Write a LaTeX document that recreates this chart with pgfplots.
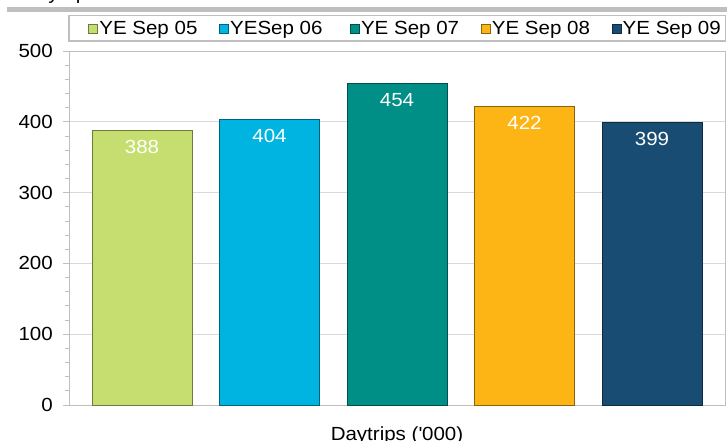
\documentclass[border=0pt]{standalone}
\usepackage{pgfplots}
\pgfplotsset{compat=1.18}
\usepackage{fontspec}
\setmainfont[FakeStretch=1.08]{Liberation Sans}
\definecolor{c1}{RGB}{198,222,112}
\definecolor{c2}{RGB}{0,180,225}
\definecolor{c3}{RGB}{0,143,135}
\definecolor{c4}{RGB}{253,180,21}
\definecolor{c5}{RGB}{24,76,114}
\definecolor{gridc}{RGB}{217,217,217}
\definecolor{axisc}{RGB}{191,191,191}
\definecolor{bandc}{RGB}{191,191,191}
\newcommand{\bigf}{\fontsize{19}{22}\selectfont}
\begin{document}
\begin{tikzpicture}
\useasboundingbox (0,0) rectangle (727pt,441pt);
\fill[bandc] (7pt,429pt) rectangle (727pt,434pt);
\node[anchor=base west, inner sep=0pt, font=\bigf] at (22pt,441.5pt) {Daytrips};
\draw[axisc, line width=1.5pt] (68.75pt,399.75pt) rectangle (725.25pt,425.25pt);
\begin{axis}[
  at={(69pt,36pt)}, anchor=south west,
  scale only axis, width=656pt, height=354pt,
  ymin=0, ymax=500, ytick={0,100,...,500}, minor y tick num=4,
  ytick pos=left,
  xmin=-0.5725, xmax=4.573, xtick=\empty,
  ybar, bar width=100pt,
  ymajorgrids, major grid style={draw=gridc, line width=0.8pt},
  axis line style={draw=axisc, line width=0.8pt},
  tick style={draw=axisc, line width=0.8pt},
  tick align=outside, major tick length=6pt, minor tick length=4pt,
  y tick label style={font=\bigf, inner sep=0pt, xshift=-10pt},
  /pgf/number format/assume math mode=true,
  xlabel={Daytrips (\textquotesingle 000)},
  xlabel style={at={(axis description cs:0.5,0)}, anchor=base, yshift=-35pt, font=\bigf, inner sep=0pt},
  nodes near coords,
  every node near coord/.append style={anchor=north, yshift=-9.5pt, inner sep=0pt, text=white, font=\bigf},
  legend style={at={(axis description cs:0.029,1.0636)}, anchor=west, draw=none, fill=none,
    inner sep=0pt, font=\bigf, nodes={inner sep=0pt},
    /tikz/every even column/.append style={column sep=19.75pt},
    /tikz/every odd column/.append style={column sep=1.5pt}},
  legend columns=5,
  legend image code/.code={\draw[#1, line width=0.6pt] (0pt,-4.5pt) rectangle (9pt,4.5pt);},
  mybar/.style={fill=#1, draw=#1!55!black, line width=0.8pt, bar shift=0pt},
]
\addplot[mybar=c1] coordinates {(0,388)};
\addplot[mybar=c2] coordinates {(1,404)};
\addplot[mybar=c3] coordinates {(2,454)};
\addplot[mybar=c4] coordinates {(3,422)};
\addplot[mybar=c5] coordinates {(4,399)};
\legend{\makebox[100pt][l]{YE Sep 05},\makebox[100pt][l]{YESep 06},\makebox[100pt][l]{YE Sep 07},\makebox[100pt][l]{YE Sep 08},\makebox[100pt][l]{YE Sep 09}}
\end{axis}
\end{tikzpicture}
\end{document}
